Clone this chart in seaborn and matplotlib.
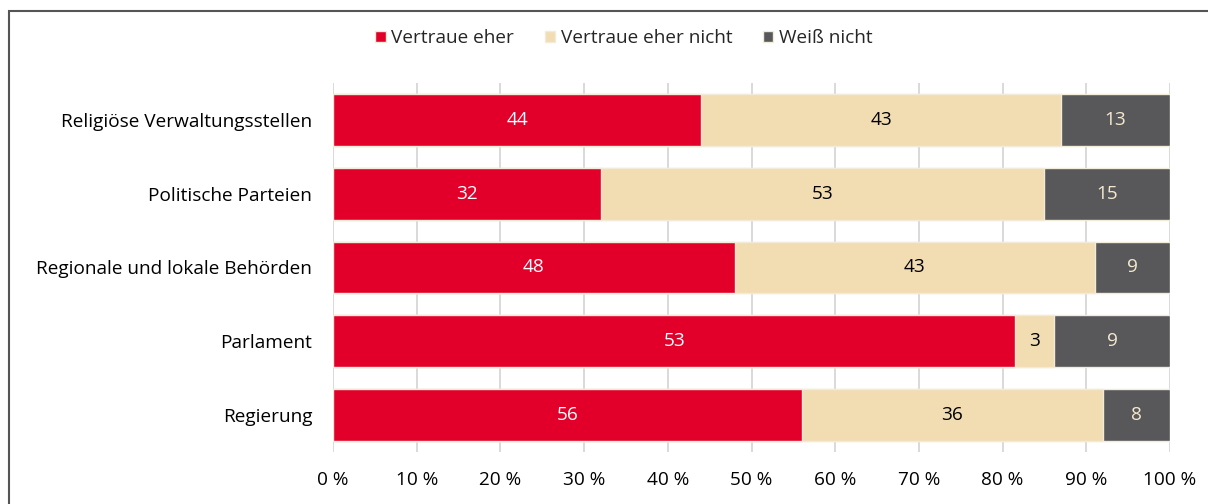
import matplotlib.pyplot as plt
from matplotlib.patches import Rectangle, Patch
import pandas as pd
import numpy as np
import seaborn as sns

sns.set_theme(style="white")
plt.rcParams['font.family'] = ['Open Sans', 'DejaVu Sans']

# Daten
kategorien = ["Religiöse Verwaltungsstellen", "Politische Parteien",
              "Regionale und lokale Behörden", "Parlament", "Regierung"]
vertraue_eher = [44, 32, 48, 53, 56]
vertraue_nicht = [43, 53, 43, 3, 36]
weiss_nicht = [13, 15, 9, 9, 8]
serien = ["Vertraue eher", "Vertraue eher nicht", "Weiß nicht"]
farben = ["#E2002A", "#F2DCB2", "#58585A"]
textfarben = ["white", "black", "#F5E8CF"]
x_ticks = [0, 10, 20, 30, 40, 50, 60, 70, 80, 90, 100]

# Anteile auf 100 % normieren
werte = np.array([vertraue_eher, vertraue_nicht, weiss_nicht], dtype=float)
anteile = werte / werte.sum(axis=0) * 100
kumuliert = np.cumsum(anteile, axis=0)

df = pd.DataFrame({"Kategorie": kategorien})
for i, s in enumerate(serien):
    df[s] = kumuliert[i]

fs = 13.7

fig = plt.figure(figsize=(12.08, 5.04), dpi=100)
ax = fig.add_axes([333 / 1208, 1 - 452 / 504, (1170 - 333) / 1208, (452 - 83) / 504])

# gestapelt: von hinten nach vorne zeichnen
for i in [2, 1, 0]:
    sns.barplot(data=df, x=serien[i], y="Kategorie", order=kategorien,
                color=farben[i], saturation=1, width=0.7,
                edgecolor="#F3EBDA", linewidth=1.0, ax=ax, zorder=3)

# Beschriftungen
for i in range(3):
    start = kumuliert[i] - anteile[i]
    for j, k in enumerate(kategorien):
        ax.text(start[j] + anteile[i][j] / 2, j, str(int(werte[i][j])),
                ha="center", va="center", fontsize=fs, color=textfarben[i], zorder=4)

ax.set_xlim(0, 100)
ax.set_ylim(4.5, -0.5)
ax.set_xticks(x_ticks)
ax.set_xticklabels([f"{t} %" for t in x_ticks])
ax.set_xlabel("")
ax.set_ylabel("")
ax.grid(axis="x", color="#D9D9D9", linewidth=1.4, zorder=0)
ax.grid(axis="y", visible=False)
for sp in ax.spines.values():
    sp.set_visible(False)
ax.tick_params(axis="x", length=0, pad=14, labelsize=fs, colors="black")
ax.tick_params(axis="y", length=0, pad=15, labelsize=fs, colors="black")

# Legende
handles = [Patch(facecolor=farben[i], edgecolor="#F3EBDA", label=serien[i]) for i in range(3)]
fig.legend(handles=handles, loc="center", bbox_to_anchor=(624 / 1208, 1 - 38 / 504),
           ncol=3, frameon=False, fontsize=fs, handlelength=0.55, handleheight=0.55,
           handletextpad=0.3, columnspacing=1.6)

# Rahmen
fig.add_artist(Rectangle((8.5 / 1208, -0.1), 1.2, 1 - 11 / 504 + 0.1, transform=fig.transFigure,
                         fill=False, edgecolor="#555555", linewidth=1.5))

fig.savefig("out.png", dpi=100)
